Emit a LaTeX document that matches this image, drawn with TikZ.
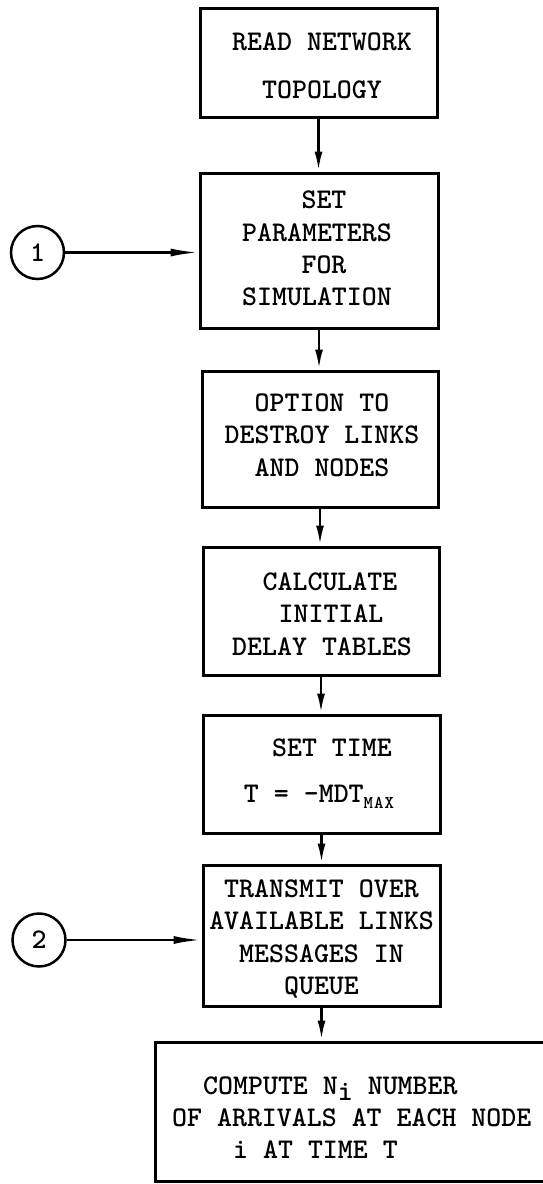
\documentclass[tikz,border=0pt]{standalone}
\usetikzlibrary{arrows.meta}
\begin{document}
\begin{tikzpicture}[x=1pt,y=-1pt,
  frame/.style={draw, line width=3pt, inner sep=0pt},
  txt/.style={align=center, inner sep=0pt, text depth=0pt,
    font=\fontsize{28.5}{32.3}\selectfont\ttfamily\bfseries},
  conn/.style={line width=2.8pt, -{Latex[length=20pt,width=8pt]}},
  feed/.style={line width=2.5pt, -{Latex[length=28pt,width=8pt]}},
  entry/.style={circle, draw, line width=2.5pt, minimum size=53pt, inner sep=0pt,
    font=\fontsize{28.5}{30}\selectfont\ttfamily\bfseries}]
  % page area
  \clip (0,0) rectangle (543,1184);
  \fill[white] (0,0) rectangle (543,1184);

  % process boxes
  \node[frame, minimum width=237pt, minimum height=109pt] (b1) at (318.5,62.5) {};
  \node[frame, minimum width=238pt, minimum height=155pt] (b2) at (319,250.5) {};
  \node[frame, minimum width=236pt, minimum height=136pt] (b3) at (320,439) {};
  \node[frame, minimum width=236pt, minimum height=128pt] (b4) at (321,611) {};
  \node[frame, minimum width=237pt, minimum height=118pt] (b5) at (321.5,774) {};
  \node[frame, minimum width=237pt, minimum height=141pt] (b6) at (321.5,935.5) {};
  \node[frame, minimum width=465pt, minimum height=139pt] (b7) at (387.5,1111.5) {};

  % box texts
  \node[txt] (t1) at (322,66) {READ NETWORK\\[15.7pt]TOPOLOGY};
  \node[txt] (t2) at (317,248.5) {\hspace*{14pt}SET\\PARAMETERS\\\hspace*{14pt}FOR\\SIMULATION};
  \node[txt] (t3) at (322,435) {OPTION TO\\DESTROY LINKS\\AND NODES};
  \node[txt] (t4) at (322,614) {\hspace*{16pt}CALCULATE\\\hspace*{18pt}INITIAL\\DELAY TABLES};
  \node[txt] (t5) at (319,771) {\hspace*{26pt}SET TIME\\[13.7pt]T = -MDT\raisebox{-6pt}{\fontsize{18}{18}\selectfont M\kern1pt A\kern1pt X}};
  \node[txt] (t6) at (321.5,937) {TRANSMIT OVER\\AVAILABLE LINKS\\MESSAGES IN\\QUEUE};
  \node[txt, align=left, anchor=west] (t7) at (172,1117.5)
    {\hspace*{31pt}COMPUTE N\raisebox{-6pt}{i} NUMBER\\OF ARRIVALS AT EACH NODE\\\hspace*{61pt}i AT TIME T};

  % entry connectors
  \node[entry] (c1) at (37.5,252.5) {1};
  \node[entry] (c2) at (39,940) {2};

  % flow
  \draw[conn] (b1.south) -- (b1.south |- b2.north);
  \draw[conn] (b2.south) -- (b2.south |- b3.north);
  \draw[conn] (b3.south) -- (b3.south |- b4.north);
  \draw[conn] (b4.south) -- (b4.south |- b5.north);
  \draw[conn] (b5.south) -- (b5.south |- b6.north);
  \draw[conn] (b6.south) -- (b6.south |- b7.north);
  \draw[feed] (c1) -- (c1 -| b2.west);
  \draw[feed] (c2) -- (c2 -| b6.west);
\end{tikzpicture}
\end{document}
